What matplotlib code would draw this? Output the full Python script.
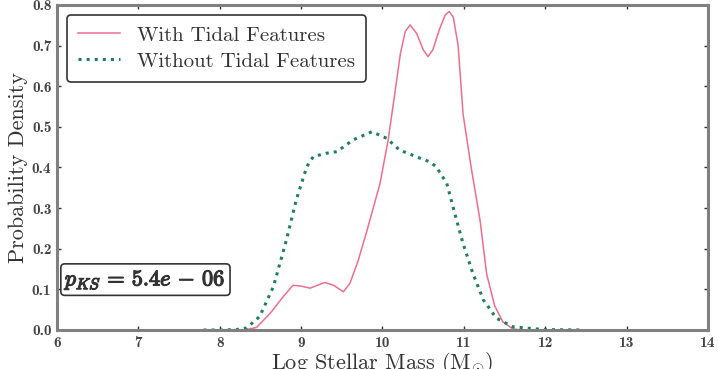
import numpy as np
import matplotlib
matplotlib.use('Agg')
import matplotlib.pyplot as plt
import matplotlib.patheffects as pe

plt.rcParams['mathtext.fontset'] = 'cm'
plt.rcParams['axes.unicode_minus'] = False

# With Tidal Features
with_x = [8.30, 8.45, 8.62, 8.78, 8.90, 9.00, 9.11, 9.20, 9.29, 9.40, 9.52, 9.60,
          9.70, 9.80, 9.90, 9.97, 10.07, 10.15, 10.22, 10.28, 10.34, 10.42, 10.50,
          10.56, 10.62, 10.70, 10.77, 10.82, 10.87, 10.93, 10.99, 11.09, 11.20,
          11.28, 11.38, 11.48, 11.60, 11.70]
with_y = [0.0, 0.006, 0.041, 0.082, 0.110, 0.108, 0.103, 0.110, 0.117, 0.110, 0.094,
          0.115, 0.170, 0.238, 0.310, 0.361, 0.468, 0.580, 0.680, 0.735, 0.751,
          0.730, 0.690, 0.673, 0.690, 0.740, 0.775, 0.784, 0.770, 0.700, 0.532,
          0.400, 0.269, 0.138, 0.059, 0.020, 0.003, 0.0]

# Without Tidal Features
without_x = [7.80, 8.00, 8.20, 8.33, 8.49, 8.66, 8.82, 8.94, 9.07, 9.15, 9.31, 9.44,
             9.64, 9.87, 10.05, 10.21, 10.46, 10.58, 10.66, 10.79, 10.91, 10.99,
             11.11, 11.24, 11.40, 11.60, 11.81, 12.00, 12.46]
without_y = [0.0, 0.0, 0.001, 0.005, 0.033, 0.107, 0.222, 0.320, 0.402, 0.427, 0.435,
             0.439, 0.468, 0.488, 0.472, 0.443, 0.423, 0.414, 0.402, 0.361, 0.271,
             0.213, 0.140, 0.074, 0.029, 0.008, 0.004, 0.001, 0.0]

fig = plt.figure(figsize=(7.18, 3.69), dpi=100)
ax = fig.add_axes([0.0794, 0.1057, 0.9066, 0.8808])

ax.plot(with_x, with_y, color='#ec6f8e', lw=1.1, label='With Tidal Features')
ax.plot(without_x, without_y, color='#1f7f5c', lw=2.2, ls=':', label='Without Tidal Features')

ax.set_xlim(6, 14)
ax.set_ylim(0, 0.8)
ax.set_xticks(np.arange(6, 15, 1))
ax.set_yticks(np.arange(0, 0.81, 0.1))
ax.set_yticklabels(['%.1f' % v for v in np.arange(0, 0.81, 0.1)])

for s in ax.spines.values():
    s.set_color('#808080')
    s.set_linewidth(2.2)
ax.tick_params(direction='in', top=True, right=True, length=3, width=1,
               color='#333333', labelsize=11, pad=4, labelcolor='#444444')
for lab in ax.get_xticklabels() + ax.get_yticklabels():
    lab.set_family('cmb10')

ax.set_xlabel(r'Log Stellar Mass (M$_{\odot}$)', family='cmr10', fontsize=16,
              color='#333333', labelpad=0)
ax.set_ylabel('Probability Density', family='cmr10', fontsize=16,
              color='#333333', labelpad=3)

leg = ax.legend(loc='upper left', prop={'family': 'cmr10', 'size': 15},
                fancybox=True, framealpha=1, edgecolor='#333333',
                borderpad=0.55, handlelength=2.0, handletextpad=0.8,
                labelspacing=0.35, borderaxespad=0, bbox_to_anchor=(0.0154, 0.97))
leg.get_frame().set_linewidth(1.2)
for t in leg.get_texts():
    t.set_color('#333333')

ax.text(0.012, 0.155, r'$p_{KS}\,=\,5.4e\,-\,06$', transform=ax.transAxes,
        fontsize=16, color='#333333', va='center',
        path_effects=[pe.withStroke(linewidth=0.9, foreground='#333333')],
        bbox=dict(boxstyle='round,pad=0.18', fc='white', ec='#333333', lw=1.2))

fig.savefig('out.png', dpi=100)
